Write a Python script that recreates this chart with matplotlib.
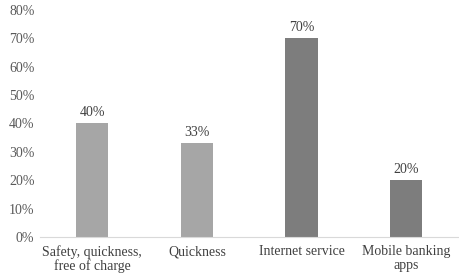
import matplotlib
matplotlib.use('Agg')
import matplotlib.pyplot as plt
from matplotlib.ticker import PercentFormatter

categories = ["Safety, quickness,\nfree of charge", "Quickness",
              "Internet service", "Mobile banking\napps"]
values = [40, 33, 70, 20]
colors = ["#a6a6a6", "#a6a6a6", "#7d7d7d", "#7d7d7d"]

plt.rcParams['font.family'] = ['Liberation Serif', 'DejaVu Serif']

fig = plt.figure(figsize=(4.59, 2.75), dpi=100)
ax = fig.add_axes([0.087, 0.138, 0.912, 0.826])

x = range(len(categories))
bars = ax.bar(x, values, width=0.31, color=colors)
for rect, v in zip(bars, values):
    ax.text(rect.get_x() + rect.get_width() / 2, v + 1.5, f"{v}%",
            ha='center', va='bottom', fontsize=10, color='#404040')

ax.set_xlim(-0.5, 3.5)
ax.set_ylim(0, 80)
ax.set_yticks(range(0, 81, 10))
ax.yaxis.set_major_formatter(PercentFormatter(decimals=0))
ax.set_xticks(list(x))
ax.set_xticklabels(categories, fontsize=10, color='#404040', linespacing=1.05)
ax.tick_params(axis='y', length=0, labelsize=10, labelcolor='#595959', pad=4)
ax.tick_params(axis='x', length=0, pad=6)

for side in ['top', 'right', 'left']:
    ax.spines[side].set_visible(False)
ax.spines['bottom'].set_color('#d9d9d9')

fig.savefig('out.png', dpi=100)
